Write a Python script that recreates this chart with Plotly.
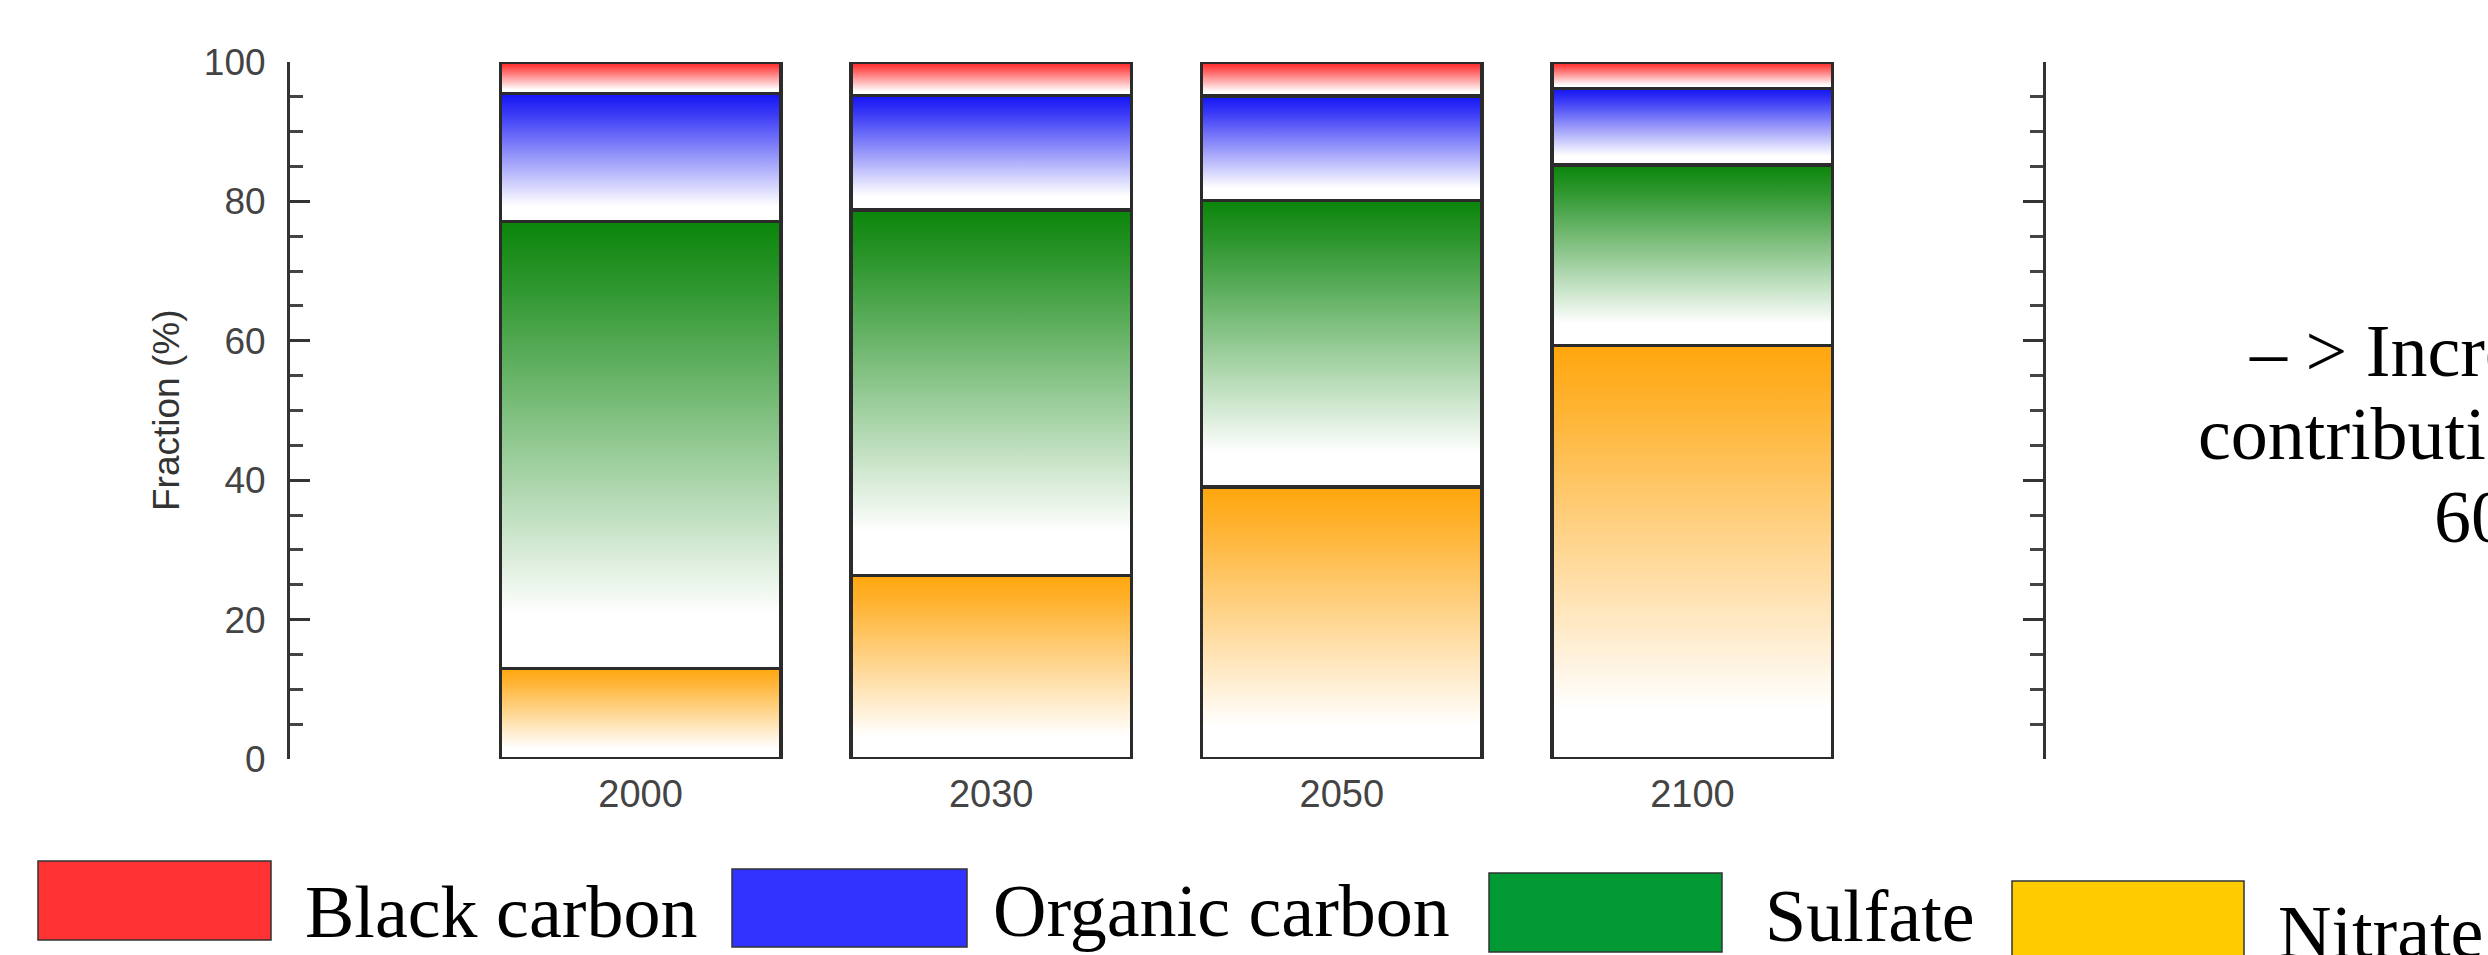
import plotly.graph_objects as go

# ---------------- data ----------------
years = ["2000", "2030", "2050", "2100"]
species = ["Nitrate", "Sulfate", "Organic carbon", "Black carbon"]   # bottom -> top
nitrate = [13.0, 26.3, 39.0, 59.3]
sulfate = [64.1, 52.5, 41.1, 25.9]
organic_carbon = [18.4, 16.4, 15.0, 11.0]
black_carbon = [4.5, 4.8, 4.9, 3.8]
y_ticks = [0, 20, 40, 60, 80, 100]

# ---------------- styles ----------------
W, H = 2488, 955
ML, MR, MT, MB = 290, 445, 62, 196
PW, PH = W - ML - MR, H - MT - MB
BAR_W = 0.8
top_colors = {"Nitrate": "#FFA60D", "Sulfate": "#0A850A",
              "Organic carbon": "#1414F5", "Black carbon": "#FF2222"}
legend_colors = {"Black carbon": "#FF3333", "Organic carbon": "#3333FF",
                 "Sulfate": "#009933", "Nitrate": "#FFCC00"}


def px_x(px):
    return (px - ML) / PW


def px_y(py):
    return (H - MB - py) / PH


def blend(hexc, f):
    r, g, b = int(hexc[1:3], 16), int(hexc[3:5], 16), int(hexc[5:7], 16)
    r = round(255 + (r - 255) * f)
    g = round(255 + (g - 255) * f)
    b = round(255 + (b - 255) * f)
    return f"rgb({r},{g},{b})"


def gradient_scale(hexc):
    return [[0.0, "#ffffff"], [0.12, "#ffffff"], [0.55, blend(hexc, 0.5)],
            [0.85, blend(hexc, 0.85)], [1.0, blend(hexc, 1.0)]]


values = {"Nitrate": nitrate, "Sulfate": sulfate,
          "Organic carbon": organic_carbon, "Black carbon": black_carbon}

fig = go.Figure()

# gradient fills (one polygon per segment, built from the stacked values)
base = [0.0] * len(years)
for sp in species:
    vals = values[sp]
    for i, v in enumerate(vals):
        b0, b1 = base[i], base[i] + v
        fig.add_trace(go.Scatter(
            x=[i - BAR_W / 2, i + BAR_W / 2, i + BAR_W / 2, i - BAR_W / 2, i - BAR_W / 2],
            y=[b0, b0, b1, b1, b0],
            mode="lines", line=dict(width=0, color="rgba(0,0,0,0)"),
            fill="toself",
            fillgradient=dict(type="vertical", colorscale=gradient_scale(top_colors[sp]),
                              start=b0, stop=b1),
            hoverinfo="skip", showlegend=False, xaxis="x", yaxis="y"))
    base = [base[i] + vals[i] for i in range(len(years))]

# stacked bars carrying the outlines (on an overlaying axis pair, drawn above)
for sp in species:
    fig.add_trace(go.Bar(
        x=list(range(len(years))), y=values[sp], name=sp, width=BAR_W,
        marker=dict(color="rgba(0,0,0,0)", line=dict(color="#2b2b2b", width=3.5)),
        showlegend=False, xaxis="x2", yaxis="y2"))

axis_font = dict(family="Liberation Sans, Arial, sans-serif", size=37, color="#444444")

fig.update_layout(
    width=W, height=H, barmode="stack",
    margin=dict(l=ML, r=MR, t=MT, b=MB, autoexpand=False),
    paper_bgcolor="white", plot_bgcolor="white",
    xaxis=dict(range=[-1.0, 4.0], tickmode="array", tickvals=list(range(len(years))),
               ticktext=years, showline=False, showgrid=False, zeroline=False,
               ticks="", ticklabelstandoff=9,
               tickfont=dict(family="Liberation Sans, Arial, sans-serif",
                             size=38, color="#444444")),
    yaxis=dict(range=[0, 100], tickmode="array", tickvals=y_ticks,
               showgrid=False, zeroline=False, showline=True, linecolor="#333333",
               linewidth=3, mirror="ticks", ticks="inside", ticklen=20, tickwidth=3,
               tickcolor="#333333", tickfont=axis_font, ticklabelstandoff=14,
               minor=dict(dtick=5, ticks="inside", ticklen=13, tickwidth=3,
                          tickcolor="#444444", showgrid=False)),
    xaxis2=dict(range=[-1.0, 4.0], overlaying="x", visible=False),
    yaxis2=dict(range=[0, 100], overlaying="y", visible=False),
)

annotations = []
# y-axis title
annotations.append(dict(text="Fraction (%)", textangle=-90, xref="paper", yref="paper",
                        x=px_x(166), y=px_y(411), xanchor="center", yanchor="middle",
                        showarrow=False,
                        font=dict(family="Liberation Sans, Arial, sans-serif", size=37,
                                  color="#333333")))

# custom legend
serif = dict(family="Liberation Serif, Times New Roman, serif", size=74, color="black")
legend_items = ["Black carbon", "Organic carbon", "Sulfate", "Nitrate"]
box_x = [(38, 271), (732, 967), (1489, 1722), (2012, 2244)]
box_y = [(861, 940), (869, 947), (873, 952), (881, 960)]
text_x = [303, 991, 1763, 2276]
text_base = [937, 936, 941, 957]
shapes = []
for name, (x0, x1), (y0, y1), tx, tb in zip(legend_items, box_x, box_y, text_x, text_base):
    shapes.append(dict(type="rect", xref="paper", yref="paper",
                       x0=px_x(x0), x1=px_x(x1), y0=px_y(y1), y1=px_y(y0),
                       fillcolor=legend_colors[name], line=dict(color="#333333", width=1.5)))
    annotations.append(dict(text=name, xref="paper", yref="paper", x=px_x(tx),
                            y=px_y(tb - 25), xanchor="left", yanchor="middle",
                            showarrow=False, font=serif))

# side note (partly cut off by the right edge, as in the original slide)
note_lines = ["– > Increasing nitrate", "contribution up to", "60%"]
note_x = [2247, 2196, 2432]
note_base = [376, 459, 542]
for t, nx, nb in zip(note_lines, note_x, note_base):
    annotations.append(dict(text=t, xref="paper", yref="paper", x=px_x(nx),
                            y=px_y(nb - 25), xanchor="left", yanchor="middle",
                            showarrow=False, font=serif))

fig.update_layout(annotations=annotations, shapes=shapes)

fig.write_html("out.html", config={"displayModeBar": False},
               post_script="document.body.style.margin='0';")
